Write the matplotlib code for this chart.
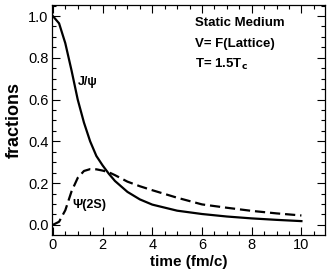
import matplotlib
matplotlib.use("Agg")
import matplotlib.pyplot as plt
from matplotlib.ticker import MultipleLocator

plt.rcParams['font.family'] = ['Liberation Sans', 'DejaVu Sans']

# values
time = [0, 0.25, 0.5, 0.75, 1.0, 1.25, 1.5, 1.75, 2.0, 2.25, 2.5, 3.0, 3.5,
        4.0, 5.0, 6.0, 7.0, 8.0, 9.0, 10.0]
jpsi = [1.0, 0.965, 0.87, 0.74, 0.60, 0.49, 0.40, 0.33, 0.285, 0.245, 0.21,
        0.158, 0.122, 0.097, 0.068, 0.052, 0.040, 0.031, 0.024, 0.018]
psi2s = [0.0, 0.015, 0.07, 0.16, 0.225, 0.258, 0.267, 0.266, 0.26, 0.252,
         0.238, 0.207, 0.185, 0.166, 0.13, 0.098, 0.082, 0.067, 0.055, 0.045]

fig = plt.figure(figsize=(3.32, 2.77), dpi=100)
ax = fig.add_axes([0.157, 0.152, 0.822, 0.830])

ax.plot(time, jpsi, color='black', lw=1.6)
ax.plot(time, psi2s, color='black', lw=1.6, dashes=(4.6, 2.2))

ax.set_xlim(-0.03, 10.95)
ax.set_ylim(-0.048, 1.053)
ax.xaxis.set_major_locator(MultipleLocator(2))
ax.xaxis.set_minor_locator(MultipleLocator(0.5))
ax.yaxis.set_major_locator(MultipleLocator(0.2))
ax.yaxis.set_minor_locator(MultipleLocator(0.05))
ax.yaxis.set_major_formatter(plt.FormatStrFormatter('%.1f'))

ax.tick_params(which='both', direction='in', top=True, right=True,
               labelsize=10.5, width=0.8)
ax.tick_params(which='major', length=6, pad=2.5)
ax.tick_params(which='minor', length=3)
for s in ax.spines.values():
    s.set_linewidth(0.9)

ax.set_xlabel('time (fm/c)', fontsize=11, fontweight='bold', labelpad=2)
ax.set_ylabel('fractions', fontsize=13, fontweight='bold', labelpad=4)

ax.text(1.0, 0.67, 'J/ψ', fontsize=9, fontweight='bold')
ax.text(0.78, 0.08, 'Ψ(2S)', fontsize=9, fontweight='bold')

ax.text(5.7, 0.965, 'Static Medium', fontsize=9.5, fontweight='bold', va='center')
ax.text(5.7, 0.865, 'V= F(Lattice)', fontsize=9.5, fontweight='bold', va='center')
ax.text(5.7, 0.77, r'T= 1.5T$_\mathbf{c}$', fontsize=9.5, fontweight='bold', va='center')

fig.savefig('out.png', dpi=100)
